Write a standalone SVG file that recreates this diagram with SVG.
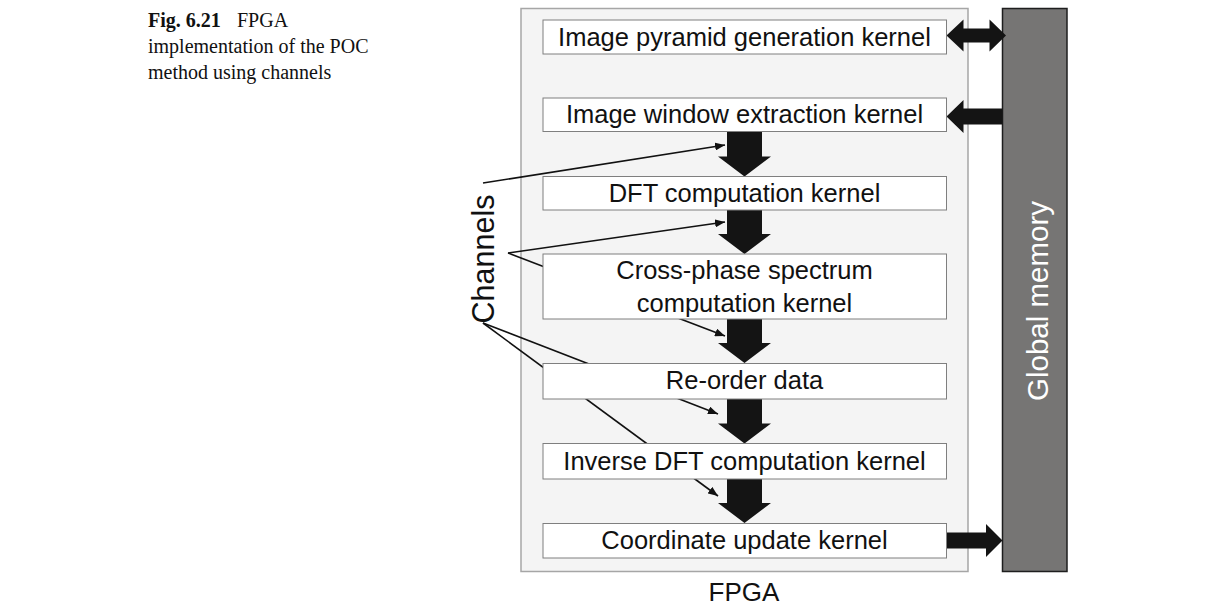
<svg xmlns="http://www.w3.org/2000/svg" width="1214" height="615" viewBox="0 0 1214 615">
<style>
.box{fill:#ffffff;stroke:#7f7f7f;stroke-width:1}
.lbl{font-family:"Liberation Sans",Arial,sans-serif;font-size:25.5px;fill:#111;text-anchor:middle}
.blk{fill:#141414}
.thin{fill:none;stroke:#111;stroke-width:1.6;marker-end:url(#ah)}
.cap{font-family:"Liberation Serif","Times New Roman",serif;font-size:20px;fill:#111}
</style>
<defs>
<marker id="ah" markerUnits="userSpaceOnUse" markerWidth="11" markerHeight="8" refX="10" refY="4" orient="auto">
<path d="M0,0 L10,4 L0,8 z" fill="#111"/>
</marker>
</defs>
<rect width="1214" height="615" fill="#ffffff"/>
<g id="caption">
<text class="cap" x="148" y="27"><tspan font-weight="bold">Fig. 6.21</tspan><tspan x="237">FPGA</tspan></text>
<text class="cap" x="148" y="53">implementation of the POC</text>
<text class="cap" x="148" y="79">method using channels</text>
</g>
<g id="fpga">
<rect x="521" y="8.5" width="447" height="563" fill="#f4f4f4" stroke="#a6a6a6" stroke-width="1.5"/>
<text x="744" y="601" font-family="Liberation Sans,Arial,sans-serif" font-size="26" fill="#111" text-anchor="middle">FPGA</text>
</g>
<g id="global-memory">
<rect x="1002.5" y="8.5" width="64.5" height="563" fill="#767574" stroke="#1e1e1e" stroke-width="1.5"/>
<text transform="translate(1048,301) rotate(-90)" font-family="Liberation Sans,Arial,sans-serif" font-size="29.5" fill="#ffffff" text-anchor="middle">Global memory</text>
</g>
<g id="channels-label">
<text transform="translate(493.5,259) rotate(-90)" font-family="Liberation Sans,Arial,sans-serif" font-size="30.5" fill="#111" text-anchor="middle">Channels</text>
</g>
<g id="connectors">
<line class="thin" x1="483" y1="183" x2="725" y2="145"/>
<line class="thin" x1="508" y1="253" x2="725" y2="222"/>
<line class="thin" x1="508" y1="253" x2="725" y2="336"/>
<line class="thin" x1="483" y1="323" x2="718" y2="414"/>
<line class="thin" x1="483" y1="323" x2="718" y2="496"/>
<polygon class="blk" points="727,131.5 762,131.5 762,156.5 771,156.5 744.5,176.5 718,156.5 727,156.5"/>
<polygon class="blk" points="727,210 762,210 762,234 771,234 744.5,254 718,234 727,234"/>
<polygon class="blk" points="727,319 762,319 762,343 771,343 744.5,363 718,343 727,343"/>
<polygon class="blk" points="727,399 762,399 762,423.5 771,423.5 744.5,443.5 718,423.5 727,423.5"/>
<polygon class="blk" points="727,479 762,479 762,503 771,503 744.5,523 718,503 727,503"/>
<polygon class="blk" points="946.5,35.5 963.5,19.5 963.5,28.5 989.5,28.5 989.5,19.5 1006,35.5 989.5,51.5 989.5,42.5 963.5,42.5 963.5,51.5"/>
<polygon class="blk" points="946.5,116.5 963.5,100 963.5,108.5 1002.5,108.5 1002.5,124.5 963.5,124.5 963.5,133"/>
<polygon class="blk" points="946.5,532.5 986,532.5 986,524 1002.5,540.5 986,557 986,548.5 946.5,548.5"/>
</g>
<g id="n-pyramid">
<rect class="box" x="543" y="20" width="403.5" height="34"/>
<text class="lbl" x="744.5" y="45.5">Image pyramid generation kernel</text>
</g>
<g id="n-window">
<rect class="box" x="543" y="98" width="403.5" height="33.5"/>
<text class="lbl" x="744.5" y="123">Image window extraction kernel</text>
</g>
<g id="n-dft">
<rect class="box" x="543" y="176.5" width="403.5" height="33.5"/>
<text class="lbl" x="744.5" y="201.5">DFT computation kernel</text>
</g>
<g id="n-cross">
<rect class="box" x="543" y="254" width="403.5" height="65"/>
<text class="lbl" x="744.5" y="279">Cross-phase spectrum</text>
<text class="lbl" x="744.5" y="311.5">computation kernel</text>
</g>
<g id="n-reorder">
<rect class="box" x="543" y="363.5" width="403.5" height="35.5"/>
<text class="lbl" x="744.5" y="389">Re-order data</text>
</g>
<g id="n-inverse">
<rect class="box" x="543" y="443.5" width="403.5" height="35.5"/>
<text class="lbl" x="744.5" y="470">Inverse DFT computation kernel</text>
</g>
<g id="n-coord">
<rect class="box" x="543" y="523.5" width="403.5" height="34.5"/>
<text class="lbl" x="744.5" y="549">Coordinate update kernel</text>
</g>
</svg>
